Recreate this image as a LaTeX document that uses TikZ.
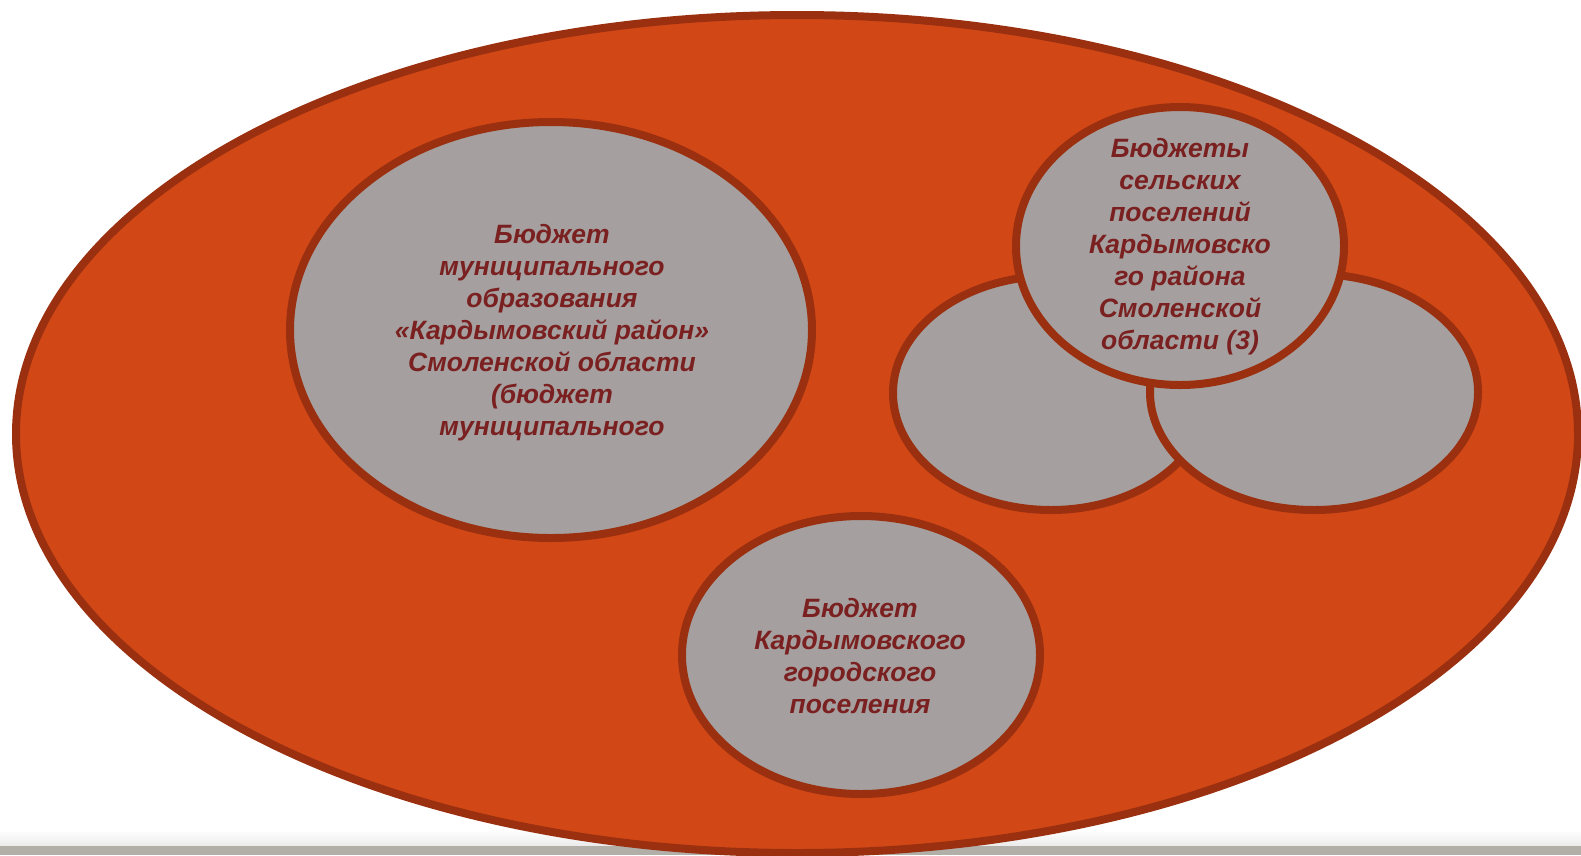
\documentclass[tikz,border=0pt]{standalone}
\usepackage{fontspec}
\setmainfont{Liberation Sans}
\usetikzlibrary{shapes.geometric}
\definecolor{orfill}{HTML}{D14816}
\definecolor{brd}{HTML}{9A3010}
\definecolor{grayfill}{HTML}{A5A09F}
\definecolor{txt}{HTML}{7A2020}
\definecolor{barc}{HTML}{B2AEA8}
\begin{document}
\begin{tikzpicture}[x=1pt,y=-1pt,
  blob/.style={draw=brd,line width=8pt,fill=grayfill},
  lbl/.style={text=txt,font=\fontsize{26.5}{32}\selectfont\bfseries\itshape,align=center}]
\useasboundingbox (0,0) rectangle (1581,855);
\fill[white] (0,0) rectangle (1581,855);
\shade[top color=white,bottom color=black!8] (0,830) rectangle (1581,846);
\fill[barc] (0,846) rectangle (1581,855);
\draw[draw=brd,line width=8pt,fill=orfill] (797,434) ellipse [x radius=781, y radius=419];
\draw[blob] (551,330) ellipse [x radius=261, y radius=208];
\draw[blob] (1051,393) ellipse [x radius=158, y radius=117];
\draw[blob] (1314,392) ellipse [x radius=164, y radius=118];
\draw[blob] (1180,246) ellipse [x radius=164, y radius=139];
\draw[blob] (861,655) ellipse [x radius=179, y radius=139];
\node[lbl] (mo) at (552,333) {Бюджет\\муниципального\\образования\\«Кардымовский район»\\Смоленской области\\(бюджет\\муниципального};
\node[lbl] (sp) at (1180,247) {Бюджеты\\сельских\\поселений\\Кардымовско\\го района\\Смоленской\\области (3)};
\node[lbl] (gp) at (860,656) {Бюджет\\Кардымовского\\городского\\поселения};
\end{tikzpicture}
\end{document}
